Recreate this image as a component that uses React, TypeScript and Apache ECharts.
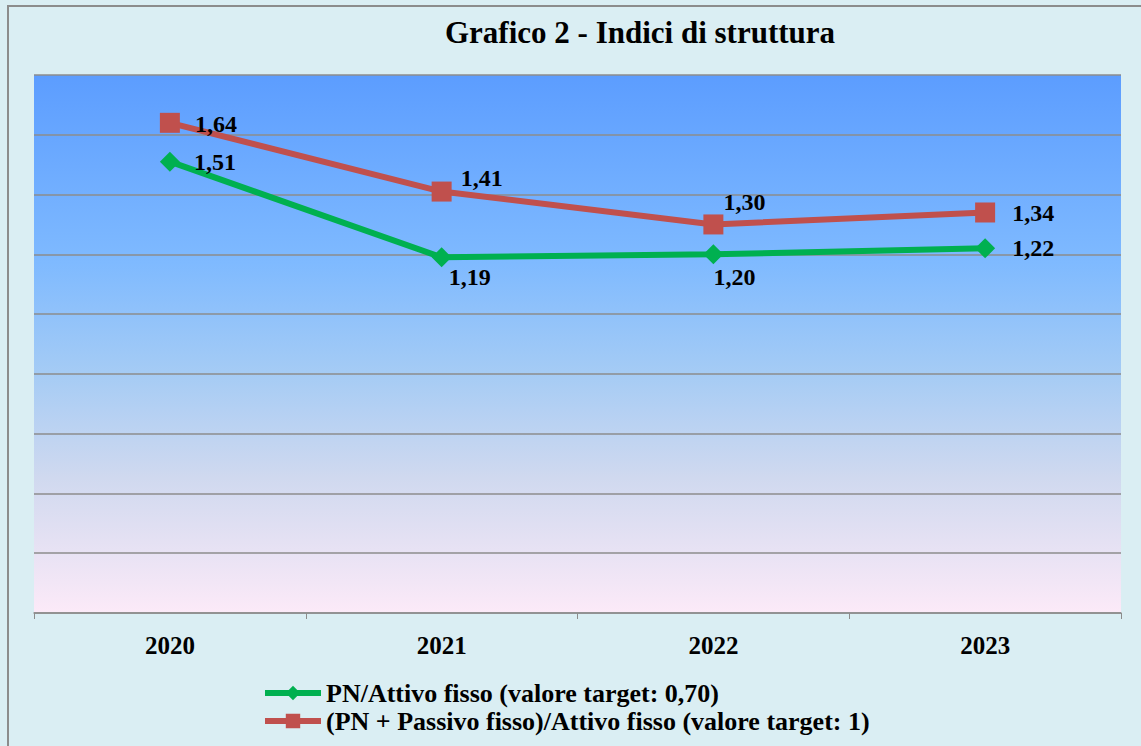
import React, { useEffect, useRef } from "react";
import * as echarts from "echarts";

const titleText = "Grafico 2 - Indici di struttura";
const years = ["2020", "2021", "2022", "2023"];
const seriesNames = [
  "PN/Attivo fisso (valore target: 0,70)",
  "(PN + Passivo fisso)/Attivo fisso (valore target: 1)",
];
const pnAttivo = [1.51, 1.19, 1.2, 1.22];
const pnPassivo = [1.64, 1.41, 1.3, 1.34];

// label placement per point: [distance, dy]
const greenLabelPos = [
  [14, 0],
  [-3, 20],
  [-10, 23],
  [17, 0],
];
const redLabelPos = [
  [15, 1],
  [9, -14],
  [0, -22],
  [17, 1],
];

const FONT = "'Liberation Serif', 'DejaVu Serif', serif";
const fmt = (v: number) => v.toFixed(2).replace(".", ",");
const GREEN = "#00B050";
const RED = "#C0504D";

export default function App() {
  const ref = useRef<HTMLDivElement>(null);
  useEffect(() => {
    if (!ref.current) return;
    const chart = echarts.init(ref.current, undefined, { renderer: "svg" });
    const mk = (vals: number[], pos: number[][]) =>
      vals.map((v, i) => ({
        value: v,
        label: {
          position: "right",
          distance: pos[i][0],
          offset: [0, pos[i][1]],
        },
      }));
    const labelStyle = {
      show: true,
      formatter: (p: any) => fmt(p.value),
      fontFamily: FONT,
      fontSize: 24,
      fontWeight: "bold",
      color: "#000",
    };
    chart.setOption({
      animation: false,
      backgroundColor: "#DAEEF3",
      textStyle: { fontFamily: FONT },
      graphic: [
        {
          type: "rect",
          shape: { x: 8, y: 6, width: 1160, height: 760 },
          style: { fill: "none", stroke: "#8C8C8C", lineWidth: 2 },
          silent: true,
        },
      ],
      title: {
        text: titleText,
        left: 440,
        top: 12,
        textStyle: {
          fontFamily: FONT,
          fontSize: 31,
          fontWeight: "bold",
          color: "#000",
        },
      },
      grid: {
        left: 34,
        right: 20,
        top: 75,
        bottom: 133,
        show: true,
        borderWidth: 0,
        backgroundColor: new echarts.graphic.LinearGradient(0, 0, 0, 1, [
          { offset: 0, color: "#5C9DFF" },
          { offset: 0.35, color: "#7FBAFF" },
          { offset: 0.55, color: "#A4CBF5" },
          { offset: 0.75, color: "#D0D9EF" },
          { offset: 1, color: "#FCEAF8" },
        ]),
      },
      legend: {
        orient: "vertical",
        left: 262,
        top: 680,
        padding: 0,
        itemWidth: 56,
        itemHeight: 18,
        itemGap: 2,
        textStyle: {
          fontFamily: FONT,
          fontSize: 26,
          lineHeight: 24,
          fontWeight: "bold",
          color: "#000",
        },
        data: [
          { name: seriesNames[0], lineStyle: { width: 6, color: GREEN } },
          { name: seriesNames[1], lineStyle: { width: 6, color: RED } },
        ],
      },
      xAxis: {
        type: "category",
        data: years,
        boundaryGap: true,
        axisLine: { lineStyle: { color: "#8C8C8C", width: 1.5 } },
        axisTick: { show: true, length: 6, lineStyle: { color: "#8C8C8C" } },
        axisLabel: {
          margin: 20,
          fontFamily: FONT,
          fontSize: 25,
          fontWeight: "bold",
          color: "#000",
        },
      },
      yAxis: {
        type: "value",
        min: 0,
        max: 1.8,
        interval: 0.2,
        axisLabel: { show: false },
        axisLine: { show: false },
        axisTick: { show: false },
        splitLine: { lineStyle: { color: "#8C8C8C", width: 1.5 } },
      },
      series: [
        {
          name: seriesNames[0],
          type: "line",
          data: mk(pnAttivo, greenLabelPos),
          symbol: "diamond",
          symbolSize: 20,
          lineStyle: { color: GREEN, width: 6 },
          itemStyle: { color: GREEN },
          label: labelStyle,
          z: 3,
        },
        {
          name: seriesNames[1],
          type: "line",
          data: mk(pnPassivo, redLabelPos),
          symbol: "rect",
          symbolSize: 20,
          lineStyle: { color: RED, width: 6 },
          itemStyle: { color: RED },
          label: labelStyle,
          z: 3,
        },
      ],
    });
    return () => chart.dispose();
  }, []);
  return (
    <div
      ref={ref}
      style={{ position: "fixed", left: 0, top: 0, width: 1141, height: 746 }}
    />
  );
}
